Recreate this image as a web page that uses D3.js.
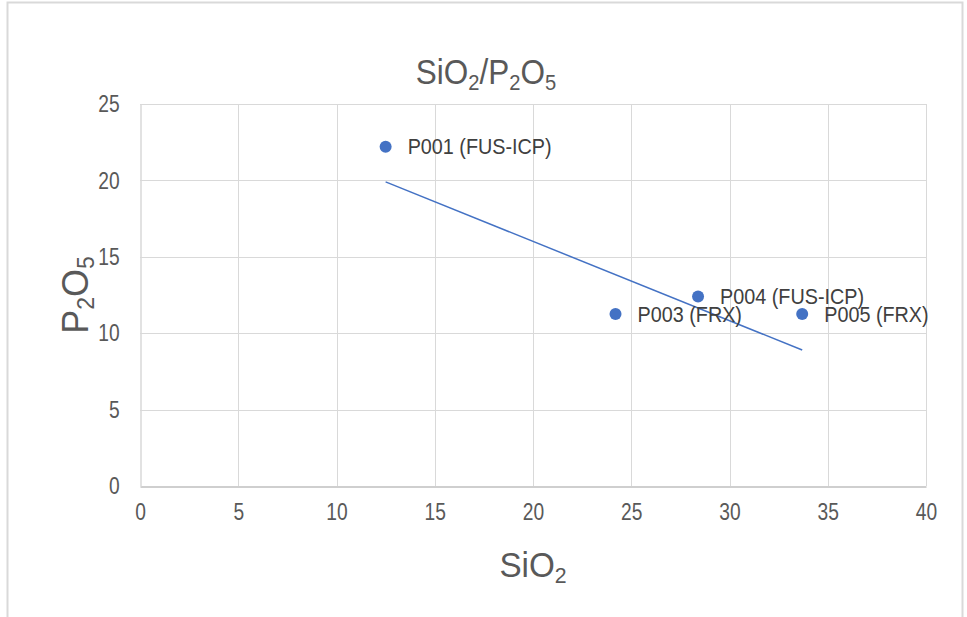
<!DOCTYPE html>
<html>
<head>
<meta charset="utf-8">
<script src="https://cdnjs.cloudflare.com/ajax/libs/d3/7.8.5/d3.min.js"></script>
<style>
  html, body { margin: 0; padding: 0; background: #fff; }
  svg text { font-family: "Liberation Sans Narrow", "Arial Narrow", "Liberation Sans", Arial, sans-serif; }
</style>
</head>
<body>
<svg id="chart" width="967" height="617"></svg>
<script>
// sample values
const samples = ['P001 (FUS-ICP)', 'P003 (FRX)', 'P004 (FUS-ICP)', 'P005 (FRX)'];
const sio2 = [12.5, 24.2, 28.4, 33.7];
const p2o5 = [22.2, 11.25, 12.4, 11.25];

// linear trend line end points as drawn
const trendX = [12.5, 33.7];
const trendY = [19.9, 8.9];

const xTicks = [0, 5, 10, 15, 20, 25, 30, 35, 40];
const yTicks = [0, 5, 10, 15, 20, 25];

const margin = { left: 140, right: 41, top: 104, bottom: 131 };
const W = 967, H = 617;

const svg = d3.select('#chart');

// outer chart frame
svg.append('rect')
  .attr('x', 7.5).attr('y', 2.5)
  .attr('width', 955).attr('height', 640)
  .attr('fill', '#fff')
  .attr('stroke', '#d9d9d9')
  .attr('stroke-width', 2);

const x = d3.scaleLinear().domain([0, 40]).range([margin.left, W - margin.right]);
const y = d3.scaleLinear().domain([0, 25]).range([H - margin.bottom, margin.top]);

const g = svg.append('g');

// gridlines
g.append('g').selectAll('line.v')
  .data(xTicks.slice(1))
  .join('line')
  .attr('x1', d => Math.round(x(d)) + 0.5).attr('x2', d => Math.round(x(d)) + 0.5)
  .attr('y1', y(25)).attr('y2', y(0))
  .attr('stroke', '#d9d9d9').attr('stroke-width', 1);

g.append('g').selectAll('line.h')
  .data(yTicks.slice(1))
  .join('line')
  .attr('x1', x(0)).attr('x2', x(40))
  .attr('y1', d => Math.round(y(d)) + 0.5).attr('y2', d => Math.round(y(d)) + 0.5)
  .attr('stroke', '#d9d9d9').attr('stroke-width', 1);

// axes (labels are narrow and tall in the original, so squeeze them)
const squeeze = 0.8;

const xAxis = g.append('g')
  .attr('transform', `translate(0,${Math.round(y(0)) + 0.5})`)
  .call(d3.axisBottom(x).tickValues(xTicks).tickSize(0).tickPadding(16));
xAxis.select('.domain').attr('stroke', '#bfbfbf').attr('stroke-width', 1.5);

const yAxis = g.append('g')
  .attr('transform', `translate(${Math.round(x(0)) + 0.5},0)`)
  .call(d3.axisLeft(y).tickValues(yTicks).tickSize(0).tickPadding(26));
yAxis.select('.domain').attr('stroke', '#d9d9d9').attr('stroke-width', 1.5);

svg.selectAll('.tick text')
  .attr('fill', '#595959')
  .style('font-size', '24px')
  .attr('transform', `scale(${squeeze},1)`);

// trend line
g.append('path')
  .datum(d3.zip(trendX, trendY))
  .attr('d', d3.line().x(d => x(d[0])).y(d => y(d[1])))
  .attr('fill', 'none')
  .attr('stroke', '#4472c4')
  .attr('stroke-width', 1.5);

// points
const pts = d3.zip(sio2, p2o5, samples);
g.append('g').selectAll('circle')
  .data(pts)
  .join('circle')
  .attr('cx', d => x(d[0])).attr('cy', d => y(d[1]))
  .attr('r', 6)
  .attr('fill', '#4472c4');

g.append('g').selectAll('text')
  .data(pts)
  .join('text')
  .attr('transform', d => `translate(${x(d[0]) + 22},${y(d[1])}) scale(0.9,1)`)
  .attr('dy', '0.35em')
  .attr('fill', '#404040')
  .style('font-size', '22px')
  .text(d => d[2]);

// chemistry text with subscripts
function formula(sel, parts, size) {
  parts.forEach(p => {
    const t = sel.append('tspan').text(p.t);
    if (p.sub) t.attr('font-size', size * 0.64).attr('dy', size * 0.16);
    else t.attr('font-size', size).attr('dy', p.back ? -size * 0.16 : 0);
  });
}

const title = svg.append('text')
  .attr('transform', 'translate(486,84) scale(0.9,1)')
  .attr('text-anchor', 'middle')
  .attr('fill', '#595959');
formula(title, [
  { t: 'SiO' }, { t: '2', sub: true }, { t: '/P', back: true },
  { t: '2', sub: true }, { t: 'O', back: true }, { t: '5', sub: true }
], 35);

const xTitle = svg.append('text')
  .attr('transform', 'translate(533,577) scale(0.95,1)')
  .attr('text-anchor', 'middle')
  .attr('fill', '#595959');
formula(xTitle, [{ t: 'SiO' }, { t: '2', sub: true }], 35);

const yTitle = svg.append('text')
  .attr('transform', `translate(88,${(y(0) + y(25)) / 2}) rotate(-90)`)
  .attr('text-anchor', 'middle')
  .attr('fill', '#595959');
formula(yTitle, [
  { t: 'P' }, { t: '2', sub: true }, { t: 'O', back: true }, { t: '5', sub: true }
], 36);
</script>
</body>
</html>
